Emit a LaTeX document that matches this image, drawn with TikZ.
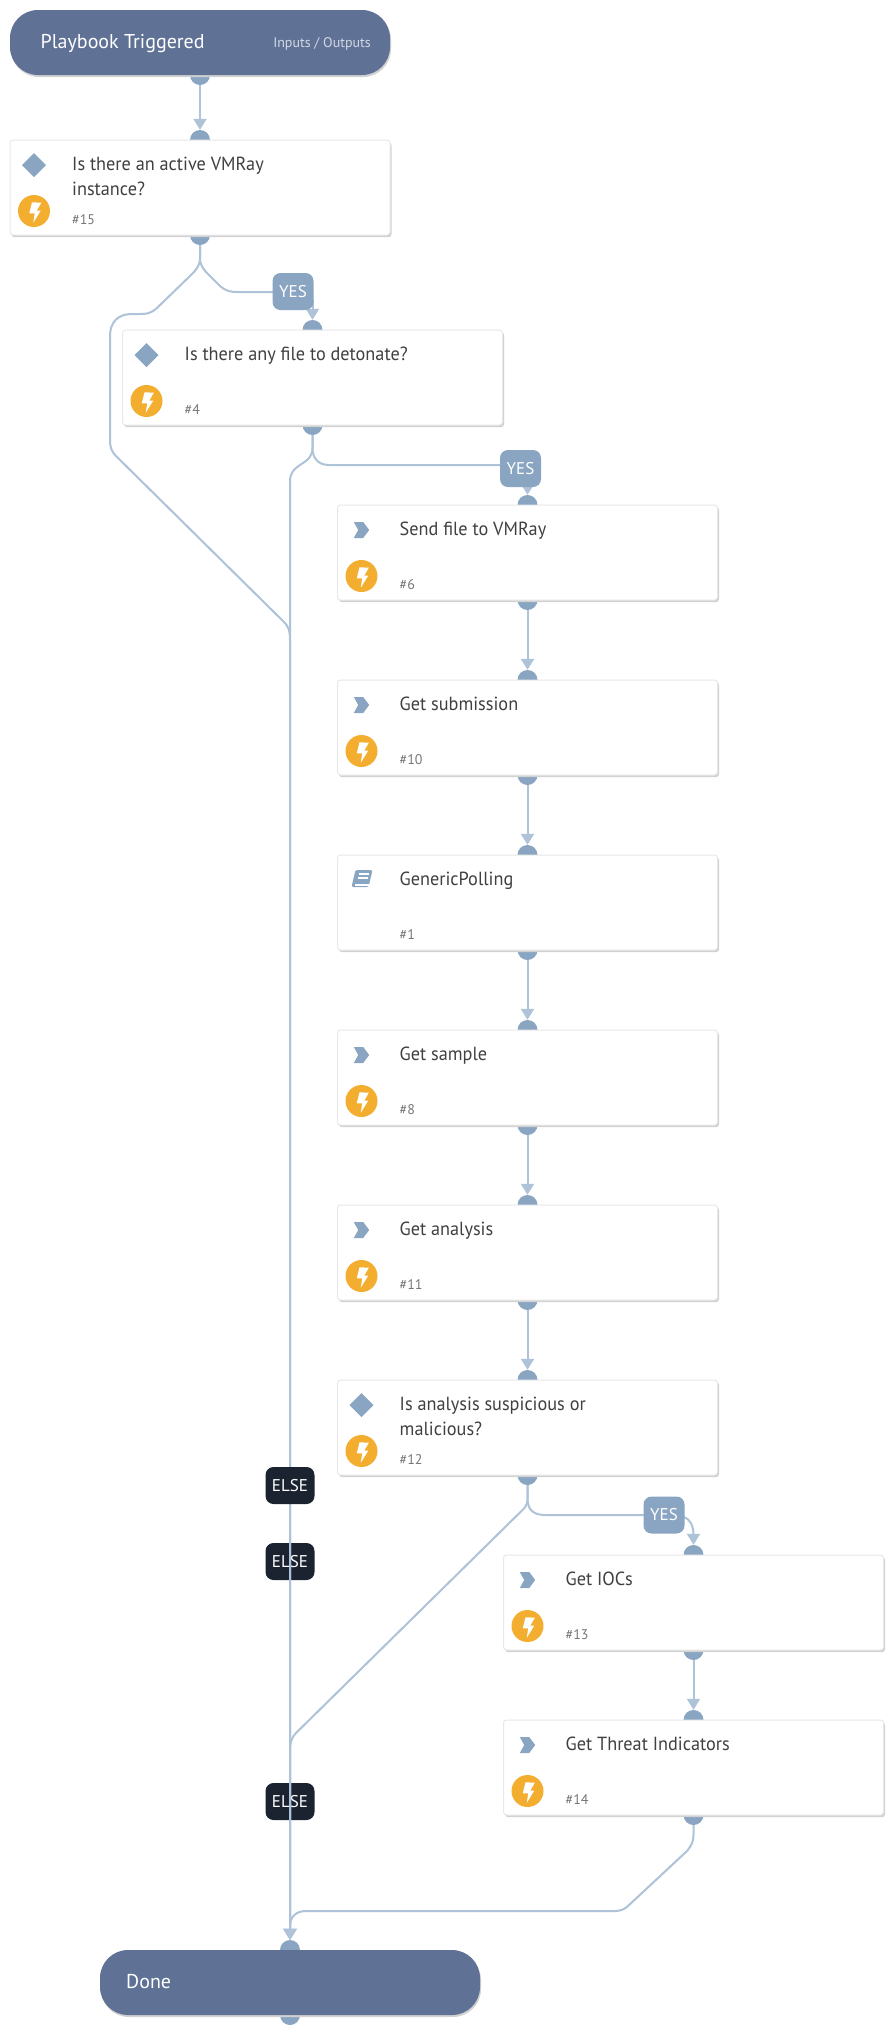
\documentclass[tikz,border=0pt]{standalone}
\usepackage{fontspec}
\setmainfont{PT Sans}
\newfontfamily\narrowfont[FakeStretch=0.96]{PT Sans}
\usetikzlibrary{shadows,arrows.meta}
\definecolor{pillc}{HTML}{5F7296}
\definecolor{dotc}{HTML}{89A5C2}
\definecolor{linec}{HTML}{AEC2D8}
\definecolor{textc}{HTML}{404040}
\definecolor{idc}{HTML}{777777}
\definecolor{boltc}{HTML}{F3AE30}
\definecolor{elsec}{HTML}{1B2230}
\tikzset{
  x=1pt,y=-1pt,
  taskbox/.style={draw=black!9,line width=1pt,fill=white,rounded corners=3pt,minimum width=380pt,minimum height=95pt,inner sep=0pt,
    general shadow={fill=black!18,shadow xshift=1.5pt,shadow yshift=-2.2pt}},
  pillbox/.style={fill=pillc,rounded corners=28pt,minimum width=380pt,minimum height=65pt,inner sep=0pt,
    general shadow={fill=black!18,shadow xshift=1pt,shadow yshift=-2pt}},
  dotn/.style={circle,fill=dotc,minimum size=20pt,inner sep=0pt},
  yesbox/.style={fill=dotc,rounded corners=8pt,minimum width=41pt,minimum height=37pt,inner sep=0pt,text=white,font=\fontsize{17}{17}\selectfont},
  elsebox/.style={fill=elsec,rounded corners=8pt,minimum width=49pt,minimum height=37pt,inner sep=0pt,text=white,font=\fontsize{17}{17}\selectfont},
  conn/.style={draw=linec,line width=2pt},
  arr/.style={conn,-{Triangle[length=11pt,width=13pt,fill=linec]}},
  maintext/.style={anchor=north west,align=left,text=textc,font=\narrowfont\fontsize{19}{25}\selectfont,inner sep=0pt},
  idtext/.style={anchor=base west,text=idc,font=\fontsize{14}{14}\selectfont,inner sep=0pt},
  pilltext/.style={anchor=base west,text=white,font=\fontsize{20}{20}\selectfont,inner sep=0pt},
}
% #1 name, #2 left, #3 top, #4 text, #5 id
\newcommand{\taskn}[5]{%
  \node[dotn] (#1i) at (#2+190,#3) {};
  \node[dotn] (#1o) at (#2+190,#3+95) {};
  \node[taskbox] (#1) at (#2+190,#3+47.5) {};
  \node[maintext] (#1t) at (#2+62,#3+15.5) {\rule{0pt}{15pt}#4};
  \node[idtext] (#1n) at (#2+62,#3+84) {#5};
}
\newcommand{\boltat}[2]{%
  \fill[boltc] (#1+24,#2+71) circle[radius=16];
  \fill[white] (#1+24-2,#2+71-8.7) -- (#1+24+7.3,#2+71-8.3) -- (#1+24+2.7,#2+71-0.3) -- (#1+24+6.7,#2+71-0.3) -- (#1+24-0.7,#2+71+11.7) -- (#1+24+0.7,#2+71+2.3) -- (#1+24-4.7,#2+71+2.3) -- cycle;}
\newcommand{\dia}[2]{\fill[dotc] (#1+12,#2+25) -- (#1+24,#2+13) -- (#1+36,#2+25) -- (#1+24,#2+37) -- cycle;}
\newcommand{\chev}[2]{\fill[dotc] (#1+16.3,#2+17) -- (#1+25.7,#2+17) -- (#1+31.7,#2+25) -- (#1+25.7,#2+33) -- (#1+16.3,#2+33) -- (#1+20.7,#2+25) -- cycle;}
\begin{document}
\begin{tikzpicture}
\useasboundingbox (0,0) rectangle (893,2035);
\fill[white] (0,0) rectangle (893,2035);
% start pill
\node[dotn] (topo) at (200,75) {};
\node[pillbox] (top) at (200,42.5) {};
\node[pilltext] (toplab) at (40.5,48) {Playbook Triggered};
\node[anchor=base east,text=white!72!pillc,font=\fontsize{14}{14}\selectfont,inner sep=0pt] (topio) at (371,47.5) {Inputs / Outputs};
% tasks
\taskn{tA}{10}{140}{Is there an active VMRay\\instance?}{\#15}
\dia{10}{140}\boltat{10}{140}
\taskn{tB}{122.5}{330}{Is there any file to detonate?}{\#4}
\dia{122.5}{330}\boltat{122.5}{330}
\taskn{tC}{337.5}{505}{Send file to VMRay}{\#6}
\chev{337.5}{505}\boltat{337.5}{505}
\taskn{tD}{337.5}{680}{Get submission}{\#10}
\chev{337.5}{680}\boltat{337.5}{680}
\taskn{tE}{337.5}{855}{GenericPolling}{\#1}
% book icon
\fill[dotc,rounded corners=1.5pt] (355.5,870) -- (372.5,870) -- (368.5,887) -- (351.5,887) -- cycle;
\draw[white,line width=1.2pt] (358.5,874) -- (369,874) (357.5,878) -- (368,878);
\draw[white,line width=1.2pt] (368.5,885) -- (354.5,885);
\taskn{tF}{337.5}{1030}{Get sample}{\#8}
\chev{337.5}{1030}\boltat{337.5}{1030}
\taskn{tG}{337.5}{1205}{Get analysis}{\#11}
\chev{337.5}{1205}\boltat{337.5}{1205}
\taskn{tH}{337.5}{1380}{Is analysis suspicious or\\malicious?}{\#12}
\dia{337.5}{1380}\boltat{337.5}{1380}
\taskn{tI}{503.5}{1555}{Get IOCs}{\#13}
\chev{503.5}{1555}\boltat{503.5}{1555}
\taskn{tJ}{503.5}{1720}{Get Threat Indicators}{\#14}
\chev{503.5}{1720}\boltat{503.5}{1720}
% end pill
\node[dotn] (endi) at (290,1950) {};
\node[dotn] (endo) at (290,2015) {};
\node[pillbox] (end) at (290,1982.5) {};
\node[pilltext] (endlab) at (126,1988) {Done};
% labels under the connectors
\node[elsebox] (else2) at (290,1561.5) {ELSE};
\node[elsebox] (else3) at (290,1801.5) {ELSE};
% connectors
\draw[arr] (topo.south) -- (tAi.north);
\draw[arr] (tAo.south) -- (200,258) .. controls (200,266) and (196,270) .. (190,276) -- (157,308) .. controls (150,314) and (146,314) .. (140,314) -- (132,314) .. controls (118,314) and (110,322) .. (110,336) -- (110,440) .. controls (110,448) and (112,452) .. (116,456) -- (284,622) .. controls (288,626) and (290,630) .. (290,640) -- (endi.north);
\draw[conn] (tAo.south) -- (200,258) .. controls (200,266) and (204,270) .. (210,276) -- (220,286) .. controls (226,291) and (230,292) .. (238,292) -- (273,292);
\coordinate (yA) at (312.5,300);
\draw[arr] (yA) -- (tBi.north);
\draw[arr] (tBo.south) -- (312.5,448) .. controls (312.5,456) and (308,460) .. (303,463) .. controls (294,469) and (290,472) .. (290,482) -- (endi.north);
\draw[conn] (tBo.south) -- (312.5,448) .. controls (312.5,458) and (318,465) .. (329,465) -- (500,465);
\coordinate (yB) at (527.5,480);
\draw[arr] (yB) -- (tCi.north);
\draw[arr] (tCo.south) -- (tDi.north);
\draw[arr] (tDo.south) -- (tEi.north);
\draw[arr] (tEo.south) -- (tFi.north);
\draw[arr] (tFo.south) -- (tGi.north);
\draw[arr] (tGo.south) -- (tHi.north);
\draw[arr] (tHo.south) -- (527.5,1500) .. controls (527.5,1503) and (526.5,1505) .. (524.5,1508) -- (296,1733) .. controls (292,1737) and (290,1742) .. (290,1750) -- (endi.north);
\draw[conn] (tHo.south) -- (527.5,1498) .. controls (527.5,1510) and (533.5,1515) .. (545.5,1515) -- (644,1515);
\coordinate (yC) at (684,1517);
\draw[arr] (yC) .. controls (690,1519) and (693.5,1526) .. (693.5,1535) -- (tIi.north);
\draw[arr] (tIo.south) -- (tJi.north);
\draw[arr] (tJo.south) -- (693.5,1835) .. controls (693.5,1842) and (691,1846) .. (687,1851) -- (629,1905) .. controls (625,1909) and (621,1911) .. (615,1911) -- (306,1911) .. controls (295,1911) and (290,1918) .. (290,1926) -- (endi.north);
% labels over the connectors
\node[elsebox] (else1) at (290,1485.5) {ELSE};
\node[yesbox] (yes1) at (293,291.5) {YES};
\node[yesbox] (yes2) at (520.5,468.5) {YES};
\node[yesbox] (yes3) at (664,1515) {YES};
\end{tikzpicture}
\end{document}
